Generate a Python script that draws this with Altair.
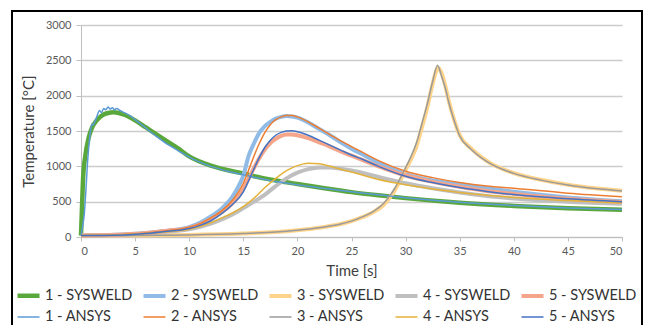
import altair as alt
import pandas as pd

series_names = ["1 - SYSWELD", "2 - SYSWELD", "3 - SYSWELD", "4 - SYSWELD", "5 - SYSWELD",
                "1 - ANSYS", "2 - ANSYS", "3 - ANSYS", "4 - ANSYS", "5 - ANSYS"]
series_colors = ["#5aa73c", "#8fbbe6", "#ffd48a", "#bfbfbf", "#f4a58a",
                 "#5b9bd5", "#ed7d31", "#9a9a9a", "#e4b23a", "#4472c4"]
series_widths = [4.5, 4, 4, 4, 4, 1.5, 1.5, 1.5, 1.5, 1.5]

# 1 - SYSWELD
t1_sys = [0, 0.1, 0.2, 0.4, 0.7, 1.0, 1.3, 1.7, 2.0, 2.5, 3.0, 3.5, 4, 5, 6, 7, 8, 9, 10, 12, 14, 15, 16, 18, 20,
          22.5, 25, 27.5, 30, 35, 40, 45, 50]
T1_sys = [20, 450, 850, 1150, 1400, 1540, 1620, 1690, 1725, 1755, 1765, 1755, 1730, 1650, 1550, 1450, 1350, 1250,
          1140, 1010, 930, 900, 860, 800, 750, 690, 635, 590, 550, 485, 440, 408, 385]
# 1 - ANSYS
t1_ans = [0, 0.15, 0.3, 0.45, 0.6, 0.8, 1.0, 1.1, 1.3, 1.5, 1.7, 1.9, 2.1, 2.3, 2.5, 2.7, 2.9, 3.1, 3.3, 3.6, 4.0,
          4.5, 5, 6, 7, 8, 9, 10, 12, 14, 16, 18, 20, 25, 30, 35, 40, 45, 50]
T1_ans = [20, 150, 320, 650, 1050, 1400, 1600, 1580, 1640, 1720, 1790, 1760, 1820, 1800, 1840, 1810, 1830, 1800,
          1820, 1790, 1760, 1720, 1660, 1540, 1420, 1310, 1220, 1130, 1000, 915, 845, 785, 740, 640, 555, 490,
          445, 412, 388]
# 2 - SYSWELD
t2_sys = [0, 2, 4, 6, 8, 10, 11, 12, 13, 14, 14.5, 15, 15.5, 16, 16.5, 17, 17.5, 18, 18.5, 19, 19.5, 20, 21, 22,
          23, 24, 25, 26, 27.5, 30, 32.5, 35, 37.5, 40, 45, 50]
T2_sys = [20, 25, 35, 55, 90, 140, 200, 290, 400, 570, 700, 870, 1150, 1330, 1480, 1570, 1630, 1675, 1700, 1712,
          1705, 1690, 1620, 1530, 1440, 1340, 1250, 1170, 1050, 890, 800, 745, 690, 640, 560, 505]
# 2 - ANSYS
t2_ans = [0, 2, 4, 6, 8, 10, 11, 12, 13, 14, 15, 15.5, 16, 16.5, 17, 17.5, 18, 18.5, 19, 19.5, 20, 21, 22, 23,
          24, 25, 26, 27.5, 30, 32.5, 35, 37.5, 40, 45, 50]
T2_ans = [20, 25, 35, 55, 90, 140, 190, 270, 370, 520, 760, 950, 1150, 1330, 1480, 1590, 1660, 1700, 1720, 1718,
          1700, 1630, 1540, 1450, 1360, 1280, 1200, 1080, 930, 840, 770, 720, 690, 620, 570]
# 3 - SYSWELD
t3_sys = [0, 5, 10, 15, 18, 20, 22, 23, 24, 25, 26, 27, 28, 28.5, 29, 29.5, 30, 30.5, 31, 31.5, 32, 32.5, 33,
          33.3, 33.7, 34, 34.5, 35, 36, 37, 38, 39, 40, 42.5, 45, 47.5, 50]
T3_sys = [20, 22, 30, 50, 70, 95, 130, 155, 185, 225, 280, 350, 460, 550, 660, 800, 950, 1100, 1280, 1550, 1830,
          2170, 2390, 2330, 2120, 1920, 1650, 1440, 1260, 1130, 1030, 960, 905, 810, 740, 690, 655]
# 3 - ANSYS
t3_ans = [0, 5, 10, 15, 18, 20, 22, 23, 24, 25, 26, 27, 28, 28.5, 29, 29.5, 30, 30.5, 31, 31.5, 32, 32.5, 32.95,
          33.3, 33.7, 34, 34.5, 35, 36, 37, 38, 39, 40, 42.5, 45, 47.5, 50]
T3_ans = [20, 22, 30, 50, 70, 95, 130, 155, 185, 225, 285, 360, 480, 575, 690, 830, 980, 1140, 1330, 1600, 1880,
          2200, 2430, 2290, 2090, 1900, 1640, 1430, 1250, 1120, 1025, 955, 900, 805, 735, 685, 650]
# 4 - SYSWELD
t4_sys = [0, 2, 4, 6, 8, 10, 12, 13, 14, 15, 16, 17, 18, 19, 20, 21, 22, 23, 24, 25, 27.5, 30, 32.5, 35, 37.5,
          40, 45, 50]
T4_sys = [20, 25, 35, 50, 75, 110, 190, 250, 320, 410, 500, 600, 720, 830, 910, 960, 985, 985, 965, 940, 850,
          760, 690, 630, 580, 545, 500, 470]
# 4 - ANSYS
t4_ans = [0, 2, 4, 6, 8, 10, 12, 13, 14, 15, 16, 17, 18, 19, 20, 21, 22, 23, 24, 25, 27.5, 30, 32.5, 35, 37.5,
          40, 45, 50]
T4_ans = [20, 25, 35, 50, 75, 110, 200, 270, 340, 430, 550, 700, 830, 940, 1010, 1045, 1035, 1000, 960, 920, 815,
          740, 680, 630, 590, 560, 515, 480]
# 5 - SYSWELD
t5_sys = [0, 2, 4, 6, 8, 10, 11, 12, 13, 14, 15, 15.5, 16, 16.5, 17, 17.5, 18, 18.5, 19, 19.5, 20, 21, 22, 23,
          24, 25, 26, 27.5, 30, 32.5, 35, 37.5, 40, 45, 50]
T5_sys = [20, 25, 35, 55, 90, 130, 180, 250, 350, 480, 680, 830, 980, 1120, 1240, 1330, 1390, 1430, 1450, 1452,
          1440, 1400, 1340, 1280, 1210, 1150, 1090, 1000, 870, 780, 710, 650, 610, 540, 495]
# 5 - ANSYS
t5_ans = [0, 2, 4, 6, 8, 10, 11, 12, 13, 14, 15, 15.5, 16, 16.5, 17, 17.5, 18, 18.5, 19, 19.5, 20, 21, 22, 23,
          24, 25, 26, 27.5, 30, 32.5, 35, 37.5, 40, 45, 50]
T5_ans = [20, 22, 30, 48, 80, 120, 165, 230, 330, 460, 640, 800, 970, 1130, 1270, 1370, 1440, 1480, 1500, 1502,
          1490, 1440, 1370, 1300, 1230, 1160, 1100, 1000, 860, 770, 700, 645, 600, 540, 500]

x_ticks = [0, 5, 10, 15, 20, 25, 30, 35, 40, 45, 50]
y_ticks = [0, 500, 1000, 1500, 2000, 2500, 3000]

pairs = {
    "1 - SYSWELD": (t1_sys, T1_sys), "2 - SYSWELD": (t2_sys, T2_sys), "3 - SYSWELD": (t3_sys, T3_sys),
    "4 - SYSWELD": (t4_sys, T4_sys), "5 - SYSWELD": (t5_sys, T5_sys),
    "1 - ANSYS": (t1_ans, T1_ans), "2 - ANSYS": (t2_ans, T2_ans), "3 - ANSYS": (t3_ans, T3_ans),
    "4 - ANSYS": (t4_ans, T4_ans), "5 - ANSYS": (t5_ans, T5_ans),
}
rows = []
for i, name in enumerate(series_names):
    ts, Ts = pairs[name]
    for k, (a, b) in enumerate(zip(ts, Ts)):
        rows.append({"series": name, "t": a, "T": b, "grp": 0 if "SYSWELD" in name else 1, "k": k})
df = pd.DataFrame(rows)

legend = alt.Legend(orient="none", legendX=-66, legendY=257, columns=5, direction="horizontal",
                    symbolType="stroke", symbolSize=484, labelFont="Liberation Sans Narrow, Lato",
                    labelFontSize=14.5, labelColor="#333333", title=None, columnPadding=2, rowPadding=0,
                    gridAlign="all", labelOffset=3, padding=0, labelLimit=200)

enc = dict(
    x=alt.X("t:Q", scale=alt.Scale(domain=[0, 50], nice=False),
            axis=alt.Axis(values=x_ticks, title="Time [s]", grid=False, tickSize=4, labelPadding=4,
                          titlePadding=7)),
    y=alt.Y("T:Q", scale=alt.Scale(domain=[0, 3000], nice=False),
            axis=alt.Axis(values=y_ticks, format="d", title="Temperature [°C]", grid=True, tickSize=5,
                          labelPadding=5, titlePadding=9)),
    color=alt.Color("series:N", scale=alt.Scale(domain=series_names, range=series_colors), legend=legend),
    strokeWidth=alt.StrokeWidth("series:N", scale=alt.Scale(type="ordinal", domain=series_names,
                                                            range=series_widths), legend=legend),
    order=alt.Order("k:Q"),
)

thick = alt.Chart(df).transform_filter(alt.datum.grp == 0).mark_line(interpolate="monotone").encode(**enc)
thin = alt.Chart(df).transform_filter(alt.datum.grp == 1).mark_line(interpolate="monotone").encode(**enc)

frame = alt.Chart(pd.DataFrame({"a": [0]})).mark_rect(fillOpacity=0, stroke="black", strokeWidth=2).encode(
    x=alt.value(-69), x2=alt.value(561), y=alt.value(-14), y2=alt.value(340))

chart = alt.layer(thick, thin, frame).properties(
    width=541, height=212,
    autosize=alt.AutoSizeParams(type="none"),
    padding={"left": 73, "top": 17, "right": 21, "bottom": 88},
).configure_view(stroke=None).configure_axis(
    labelFont="Lato", labelFontSize=11, labelColor="#595959",
    domainColor="#bfbfbf", tickColor="#bfbfbf", gridColor="#cccccc", gridWidth=1.5,
    titleFont="Lato", titleFontSize=15, titleColor="#404040", titleFontWeight="normal",
)

chart.save("out.html", embed_options={"renderer": "svg", "actions": False})
